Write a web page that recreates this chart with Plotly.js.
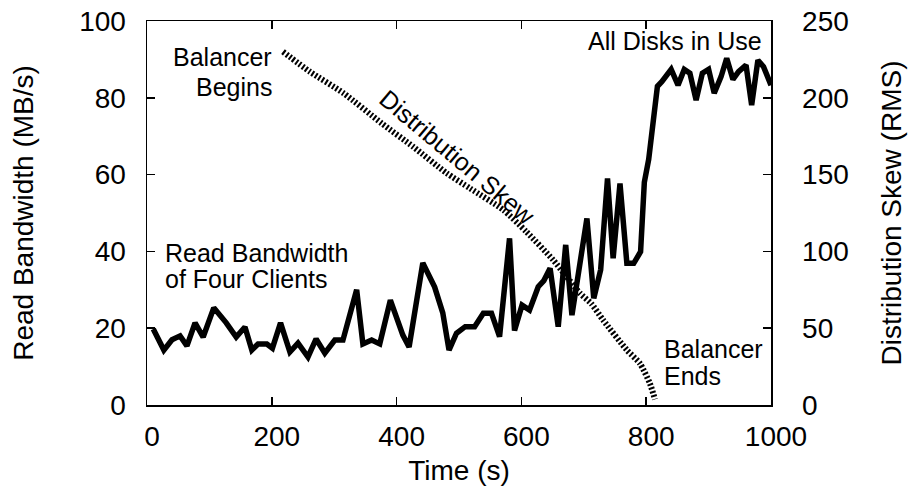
<!DOCTYPE html>
<html>
<head>
<meta charset="utf-8">
<script src="https://cdn.plot.ly/plotly-3.0.1.min.js"></script>
<style>
  html, body { margin: 0; padding: 0; background: #fff; }
  #chart { width: 913px; height: 498px; }
</style>
</head>
<body>
<div id="chart"></div>
<script>
// Read bandwidth of four clients (MB/s), left axis
const bwTime = [10, 27, 40, 53, 64, 77, 90, 107, 127, 143, 157, 168, 178, 192, 201, 214, 229, 242, 258, 271,
  285, 301, 314, 336, 346, 360, 373, 390, 410, 420, 442, 461, 474, 484, 496, 510, 525, 539, 552, 565,
  581, 589, 601, 613, 627, 636, 646, 659, 671, 681, 705, 716, 727, 738, 747, 758, 769, 780, 791, 797,
  804, 818, 825, 840, 851, 861, 870, 880, 890, 900, 909, 920, 929, 939, 948, 960, 969, 979, 988, 1000];
const bwValues = [19.8, 14.3, 17, 18, 15.4, 21.4, 17.7, 25.3, 21.4, 17.7, 20.3, 14.3, 15.9, 15.9, 14.8, 21.4, 13.8, 16.1, 12.5, 17.2,
  13.5, 16.9, 16.9, 30, 15.9, 16.9, 15.9, 27.3, 18.2, 15.1, 37, 30.7, 24, 14.3, 18.7, 20.4, 20.4, 23.9, 23.9, 17.8,
  43.4, 19.4, 26, 24.7, 30.8, 32.4, 35.6, 20.4, 41.7, 23.4, 48.6, 27.8, 35.2, 59, 38.2, 57.7, 36.9, 36.9, 39.9, 58,
  64, 83, 84.2, 87.4, 83.3, 87.4, 86.4, 79.4, 86.4, 87.4, 81.2, 85.5, 90.3, 84.8, 86.8, 88.5, 78.1, 89.8, 88.1, 83.3];

// Distribution skew (RMS), right axis
const skewTime = [218, 261, 315, 376, 427, 480, 518, 571, 608, 651, 694, 712, 731, 769, 790, 806, 814];
const skewValues = [230, 217, 203, 183.4, 168, 151, 141, 127, 112.8, 94.4, 72.7, 66, 55.3, 35.8, 27, 14, 3.7];

// Tick labels
const xTicks = [0, 200, 400, 600, 800, 1000];
const yTicks = [0, 20, 40, 60, 80, 100];
const y2Ticks = [0, 50, 100, 150, 200, 250];

const FONT = 'Liberation Sans, Arial, Helvetica, sans-serif';

const traces = [
  {
    x: bwTime, y: bwValues, type: 'scatter', mode: 'lines', yaxis: 'y',
    line: { color: '#000', width: 5.5, shape: 'linear' },
    hoverinfo: 'skip', showlegend: false
  },
  {
    x: skewTime, y: skewValues, type: 'scatter', mode: 'lines', yaxis: 'y2',
    line: { color: '#000', width: 6, dash: '2px,2px', shape: 'spline', smoothing: 0.6 },
    hoverinfo: 'skip', showlegend: false
  }
];

const annFont = { family: FONT, size: 25, color: '#000' };
function ann(text, x, y, xanchor, extra) {
  return Object.assign({ text: text, x: x, y: y, xref: 'x', yref: 'y', xanchor: xanchor, yanchor: 'middle',
    showarrow: false, font: annFont, borderpad: 0 }, extra || {});
}

const layout = {
  width: 913, height: 498,
  margin: { l: 147, r: 142, t: 21, b: 93 },
  paper_bgcolor: '#fff', plot_bgcolor: '#fff',
  font: { family: FONT, size: 28, color: '#000' },
  showlegend: false,
  xaxis: {
    range: [0, 1000], tickvals: xTicks, ticktext: xTicks.map(String),
    ticks: 'inside', ticklen: 8, tickwidth: 1.5, tickcolor: '#000',
    showline: true, linecolor: '#000', linewidth: 1.5, mirror: 'ticks',
    showgrid: false, zeroline: false,
    tickfont: { family: FONT, size: 28 },
    ticklabelstandoff: 6, ticklabelshift: 5,
    title: { text: 'Time (s)', font: { family: FONT, size: 28 }, standoff: 9 }
  },
  yaxis: {
    range: [0, 100], tickvals: yTicks, ticktext: yTicks.map(String),
    ticks: 'inside', ticklen: 8, tickwidth: 1.5, tickcolor: '#000',
    showline: true, linecolor: '#000', linewidth: 1.5,
    showgrid: false, zeroline: false,
    tickfont: { family: FONT, size: 28 },
    ticklabelstandoff: 14,
    title: { text: 'Read Bandwidth (MB/s)', font: { family: FONT, size: 28 }, standoff: 37 }
  },
  yaxis2: {
    range: [0, 250], tickvals: y2Ticks, ticktext: y2Ticks.map(String),
    overlaying: 'y', side: 'right',
    ticks: 'inside', ticklen: 8, tickwidth: 1.5, tickcolor: '#000',
    showline: true, linecolor: '#000', linewidth: 1.5,
    showgrid: false, zeroline: false,
    tickfont: { family: FONT, size: 28 },
    ticklabelstandoff: 24,
    title: { text: 'Distribution Skew (RMS)', font: { family: FONT, size: 28 }, standoff: 33 }
  },
  annotations: [
    ann('Balancer', 201.9, 90.6, 'right'),
    ann('Begins', 201.9, 82.9, 'right'),
    ann('Distribution Skew', 497.6, 64.7, 'center', { textangle: 40 }),
    ann('Read Bandwidth', 27.2, 39.6, 'left'),
    ann('of Four Clients', 27.2, 32.7, 'left'),
    ann('Balancer', 827, 14.7, 'left'),
    ann('Ends', 827, 7.6, 'left'),
    ann('All Disks in Use', 987.7, 94.9, 'right')
  ]
};

Plotly.newPlot('chart', traces, layout, { staticPlot: true, displayModeBar: false });
</script>
</body>
</html>
